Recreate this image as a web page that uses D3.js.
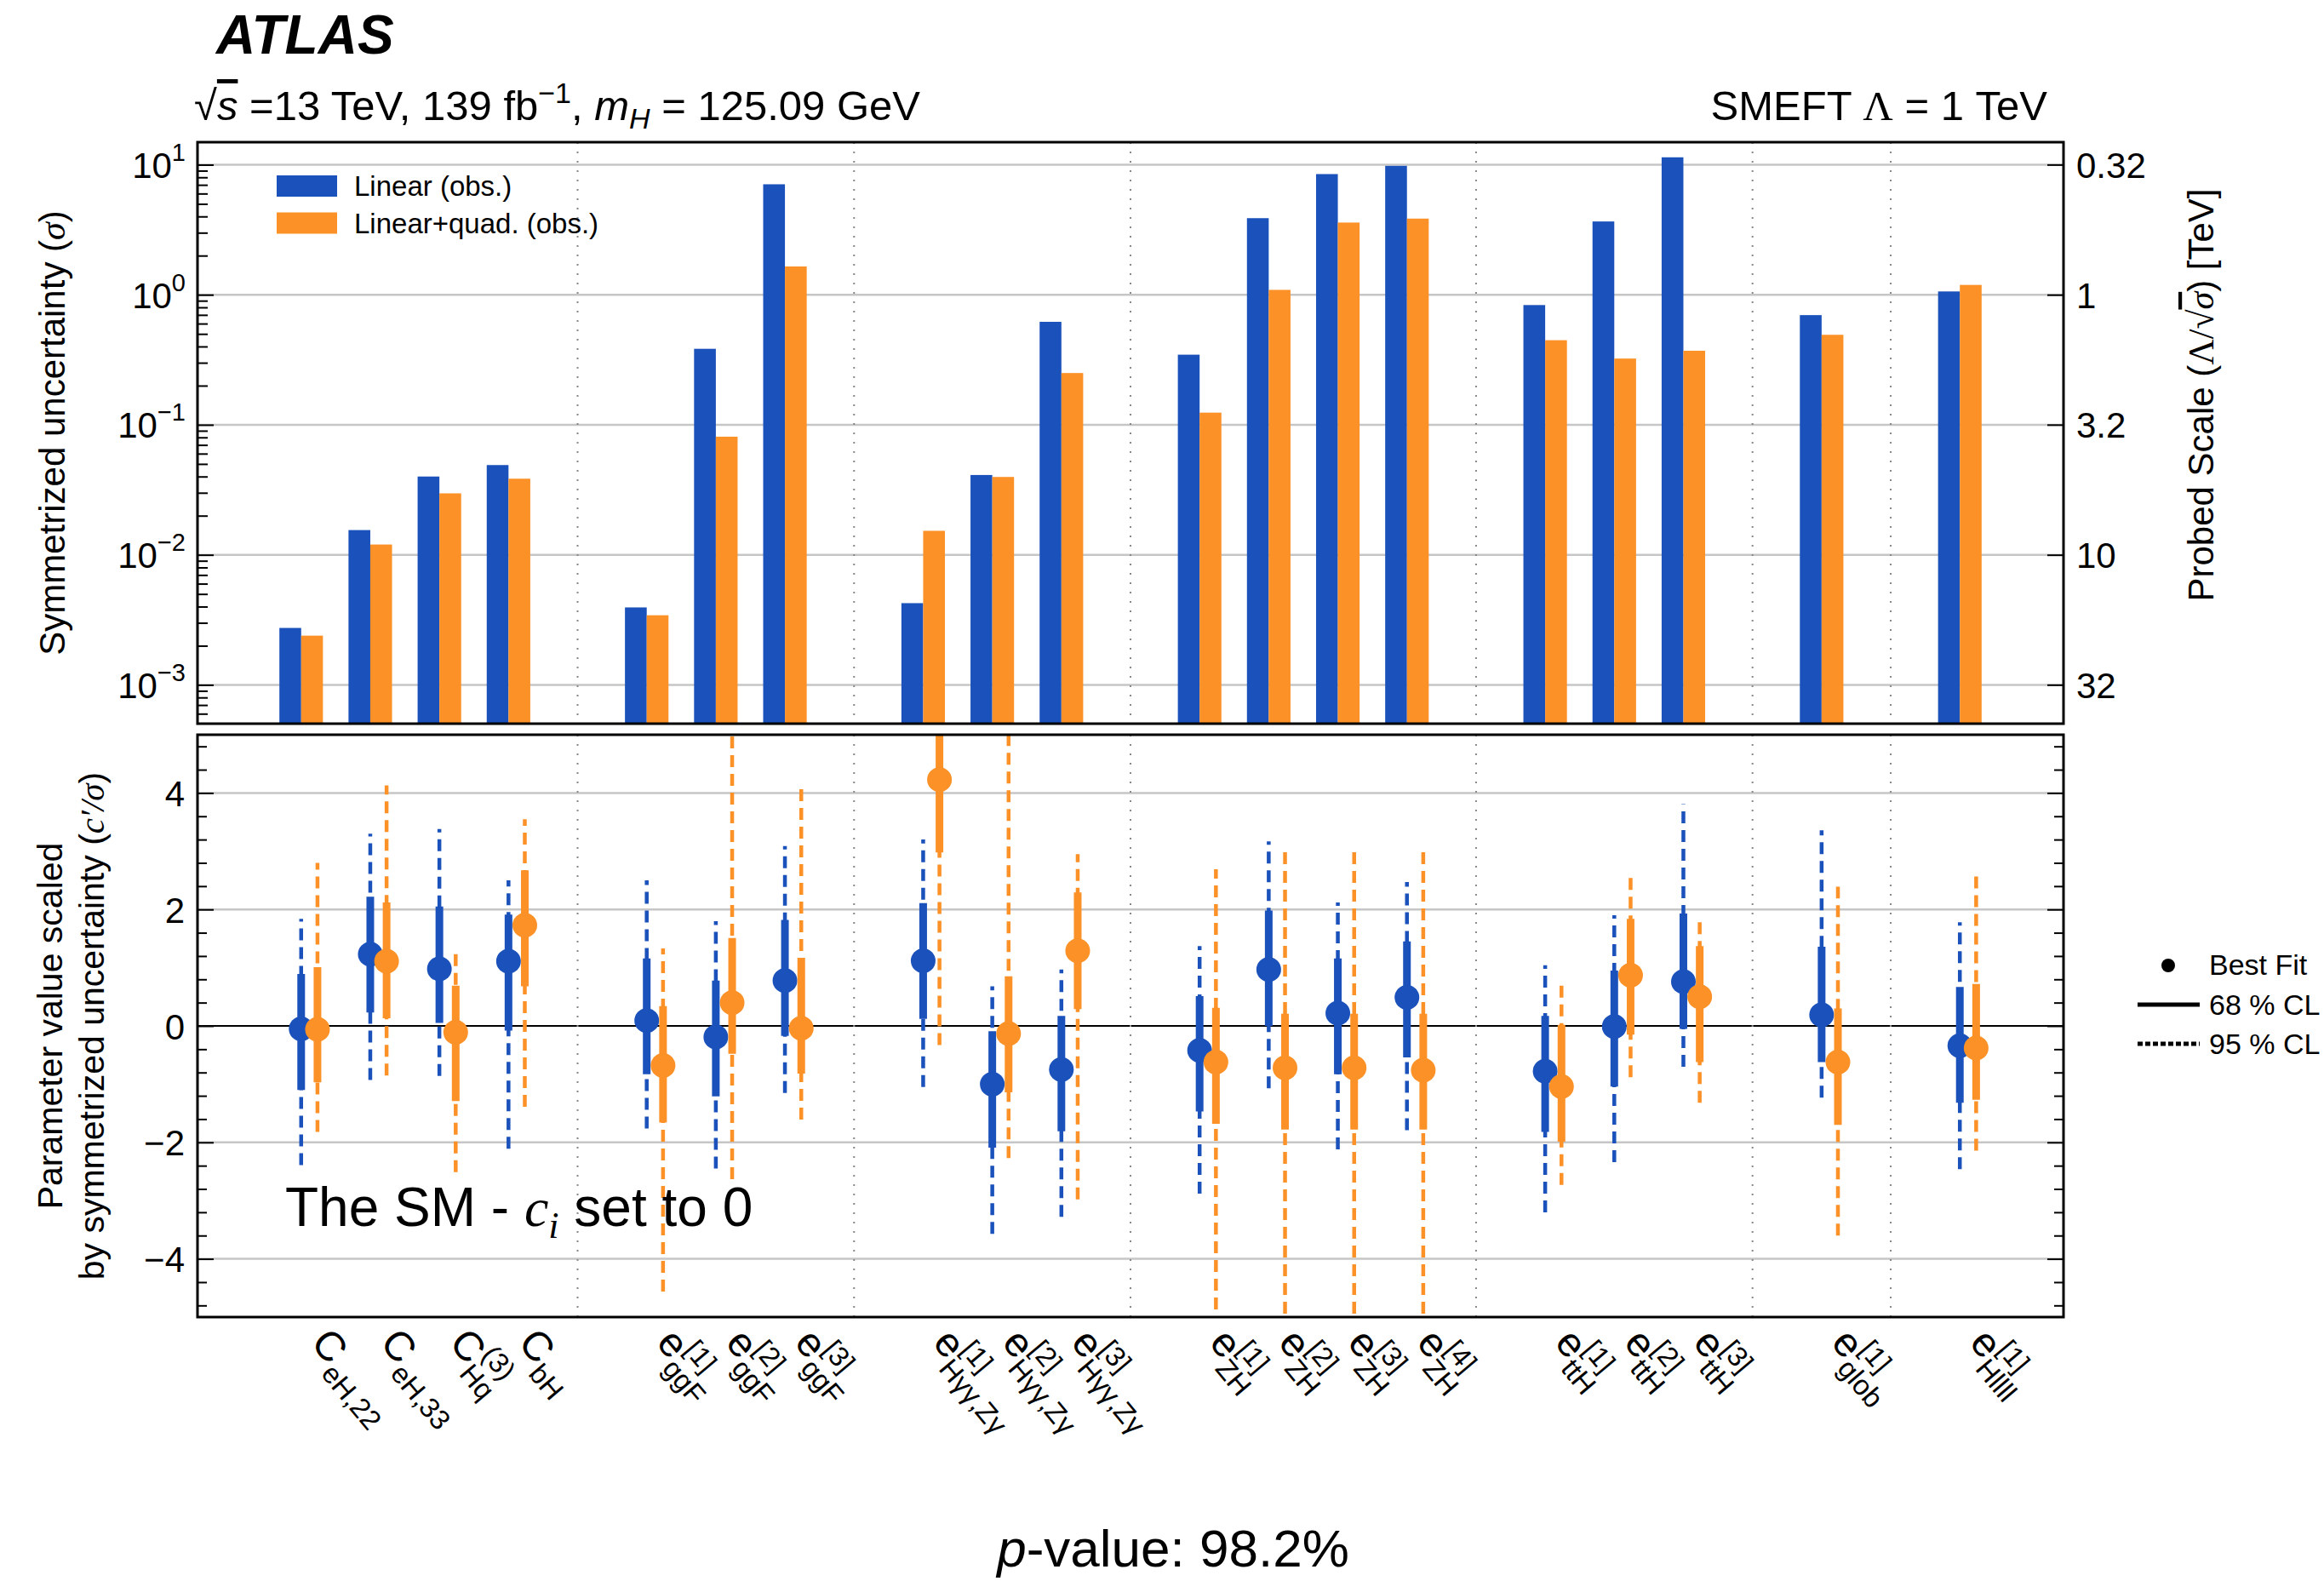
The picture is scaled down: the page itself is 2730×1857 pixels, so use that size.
<!DOCTYPE html>
<html>
<head>
<meta charset="utf-8">
<script src="https://cdn.jsdelivr.net/npm/d3@7"></script>
<style>
  body { margin: 0; background: #fff; }
  svg { display: block; font-family: "Liberation Sans", Arial, Helvetica, sans-serif; }
</style>
</head>
<body>
<svg id="chart" width="2730" height="1857"></svg>
<script>
// parameter groups, separated by dotted lines
const groups = [
  ["CeH22", "CeH33", "CHq3", "CbH"],
  ["ggF1", "ggF2", "ggF3"],
  ["Hgg1", "Hgg2", "Hgg3"],
  ["ZH1", "ZH2", "ZH3", "ZH4"],
  ["ttH1", "ttH2", "ttH3"],
  ["glob1"],
  ["Hllll1"]
];
const labelMain = ["C", "C", "C", "C", "e", "e", "e", "e", "e", "e", "e", "e", "e", "e", "e", "e", "e", "e", "e"];
const labelSup = ["", "", "(3)", "", "[1]", "[2]", "[3]", "[1]", "[2]", "[3]", "[1]", "[2]", "[3]", "[4]", "[1]", "[2]", "[3]", "[1]", "[1]"];
const labelSub = ["eH,22", "eH,33", "Hq", "bH", "ggF", "ggF", "ggF", "Hγγ,Zγ", "Hγγ,Zγ", "Hγγ,Zγ",
  "ZH", "ZH", "ZH", "ZH", "ttH", "ttH", "ttH", "glob", "Hllll"];

// top panel: symmetrized uncertainty
const sigmaLin = [2.74e-3, 0.0155, 0.040, 0.049, 3.94e-3, 0.384, 7.07, 4.25e-3, 0.0411, 0.619,
  0.346, 3.88, 8.47, 9.8, 0.833, 3.66, 11.4, 0.697, 1.06];
const sigmaQuad = [2.39e-3, 0.0120, 0.0297, 0.0385, 3.43e-3, 0.081, 1.65, 0.0153, 0.0397, 0.250,
  0.124, 1.09, 3.59, 3.85, 0.447, 0.323, 0.371, 0.492, 1.19];

// bottom panel: best fit and intervals (c'/sigma)
const bestLin = [-0.05, 1.23, 0.98, 1.11, 0.09, -0.19, 0.78, 1.12, -1.00, -0.75, -0.42, 0.97, 0.22, 0.49, -0.78, -0.01, 0.76, 0.19, -0.34];
const lo68Lin = [-1.10, 0.23, 0.05, -0.08, -0.83, -1.21, -0.17, 0.12, -2.09, -1.81, -1.47, 0.00, -0.83, -0.54, -1.82, -1.04, -0.05, -0.62, -1.32];
const hi68Lin = [0.89, 2.22, 2.05, 1.91, 1.16, 0.78, 1.82, 2.11, -0.09, 0.17, 0.51, 1.98, 1.16, 1.45, 0.17, 0.95, 1.93, 1.36, 0.67];
const lo95Lin = [-2.39, -0.93, -0.86, -2.11, -1.76, -2.45, -1.15, -1.05, -3.57, -3.28, -2.88, -1.07, -2.12, -1.79, -3.20, -2.34, -0.70, -1.23, -2.46];
const hi95Lin = [1.84, 3.30, 3.38, 2.50, 2.50, 1.80, 3.09, 3.20, 0.68, 0.97, 1.37, 3.17, 2.12, 2.47, 1.04, 1.90, 3.81, 3.36, 1.78];

const bestQuad = [-0.06, 1.11, -0.11, 1.73, -0.68, 0.40, -0.04, 4.23, -0.13, 1.29, -0.62, -0.72, -0.72, -0.76, -1.04, 0.87, 0.50, -0.62, -0.38];
const lo68Quad = [-0.97, 0.13, -1.29, 0.68, -1.66, -0.48, -0.82, 2.98, -1.14, 0.29, -1.68, -1.78, -1.78, -1.78, -1.99, -0.15, -0.62, -1.70, -1.27];
const hi68Quad = [1.01, 2.12, 0.69, 2.67, 0.34, 1.51, 1.17, 5.6, 0.85, 2.29, 0.31, 0.21, 0.21, 0.21, 0.02, 1.84, 1.37, 0.30, 0.72];
const lo95Quad = [-1.82, -0.85, -2.51, -1.39, -4.56, -2.63, -1.61, -0.33, -2.27, -2.98, -4.87, -4.94, -4.94, -4.94, -2.73, -0.88, -1.32, -3.60, -2.14];
const hi95Quad = [2.80, 4.13, 1.35, 3.55, 1.33, 5.5, 4.13, 6.5, 5.5, 2.95, 2.69, 3.02, 3.02, 3.02, 0.76, 2.58, 1.82, 2.39, 2.61];

// axis ticks
const decadeExp = [-3, -2, -1, 0, 1];
const probedValues = [0.316, 1, 3.16, 10, 31.6];
const probedLabels = ["0.32", "1", "3.2", "10", "32"];
const botTicks = [-4, -2, 0, 2, 4];

const blue = "#1b51bb";
const orange = "#fb9127";

const svg = d3.select("#chart");
const left = 232, right = 2424;
const topY0 = 167, topY1 = 850, botY0 = 863, botY1 = 1547;

const params = groups.flat();
const slots = ["start"];
groups.forEach((g, i) => {
  if (i > 0) slots.push("div" + i);
  slots.push(...g);
});
slots.push("end");
const dividers = slots.filter(s => s.startsWith("div"));

const x = d3.scaleBand().domain(slots).range([left, right]);
const bw = x.bandwidth();
const cx = k => x(k) + bw / 2;

const yTop = d3.scaleLog().domain([5.03e-4, 14.9]).range([topY1, topY0]);
const yProbed = d3.scaleLog().domain([1 / Math.sqrt(5.03e-4), 1 / Math.sqrt(14.9)]).range([topY1, topY0]);
const yBot = d3.scaleLinear().domain([-5, 5]).range([botY1, botY0]);

const decades = decadeExp.map(e => Math.pow(10, e));
const minorTop = [];
for (let e = -4; e <= 1; e++) {
  for (let m = 2; m <= 9; m++) {
    const v = m * Math.pow(10, e);
    if (v > yTop.domain()[0] && v < yTop.domain()[1]) minorTop.push(v);
  }
}
const minorBot = d3.range(-4.8, 4.81, 0.4).filter(v => Math.abs(v / 2 - Math.round(v / 2)) > 0.01);

// ---------- top panel ----------
svg.append("g").selectAll("line").data(decades).join("line")
  .attr("x1", left).attr("x2", right)
  .attr("y1", d => yTop(d)).attr("y2", d => yTop(d))
  .attr("stroke", "#c6c6c6").attr("stroke-width", 2.5);

svg.append("g").selectAll("line").data(dividers).join("line")
  .attr("x1", d => cx(d)).attr("x2", d => cx(d))
  .attr("y1", topY0).attr("y2", topY1)
  .attr("stroke", "#888").attr("stroke-width", 2).attr("stroke-dasharray", "2,9");

const barW = bw * 0.315;
svg.append("g").selectAll("rect").data(params).join("rect")
  .attr("x", d => cx(d) - barW).attr("width", barW)
  .attr("y", (d, i) => yTop(sigmaLin[i]))
  .attr("height", (d, i) => topY1 - yTop(sigmaLin[i]))
  .attr("fill", blue);
svg.append("g").selectAll("rect").data(params).join("rect")
  .attr("x", d => cx(d)).attr("width", barW)
  .attr("y", (d, i) => yTop(sigmaQuad[i]))
  .attr("height", (d, i) => topY1 - yTop(sigmaQuad[i]))
  .attr("fill", orange);

// left axis (log)
const axMinor = svg.append("g").attr("transform", `translate(${left},0)`)
  .call(d3.axisLeft(yTop).tickValues(minorTop).tickSize(-12).tickFormat(""));
const axMajor = svg.append("g").attr("transform", `translate(${left},0)`)
  .call(d3.axisLeft(yTop).tickValues(decades).tickSize(-19).tickPadding(14).tickFormat(""));
[axMinor, axMajor].forEach(a => {
  a.select(".domain").remove();
  a.selectAll("line").attr("stroke", "#000").attr("stroke-width", 2);
});
axMajor.selectAll(".tick text")
  .attr("font-size", 42).attr("dy", null).attr("y", 15)
  .each(function(d, i) {
    const t = d3.select(this);
    t.append("tspan").text("10");
    t.append("tspan").attr("font-size", 29).attr("dy", -20)
      .text(decadeExp[i] < 0 ? "−" + Math.abs(decadeExp[i]) : String(decadeExp[i]));
  });

// right axis (probed scale)
const axRight = svg.append("g").attr("transform", `translate(${right},0)`)
  .call(d3.axisRight(yProbed).tickValues(probedValues).tickSize(-19).tickPadding(15)
    .tickFormat((d, i) => probedLabels[i]));
axRight.select(".domain").remove();
axRight.selectAll("line").attr("stroke", "#000").attr("stroke-width", 2);
axRight.selectAll("text").attr("font-size", 42).attr("font-family", null).attr("dy", null).attr("y", 15);

svg.append("rect").attr("x", left).attr("y", topY0)
  .attr("width", right - left).attr("height", topY1 - topY0)
  .attr("fill", "none").attr("stroke", "#000").attr("stroke-width", 3);

// top legend
const legTop = svg.append("g");
[["Linear (obs.)", blue], ["Linear+quad. (obs.)", orange]].forEach(([t, c], i) => {
  legTop.append("rect").attr("x", 325).attr("y", 206 + i * 43.5)
    .attr("width", 71).attr("height", 25).attr("fill", c);
  legTop.append("text").attr("x", 416).attr("y", 230 + i * 43.5)
    .attr("font-size", 33).text(t);
});

// axis titles top
svg.append("text")
  .attr("transform", `translate(76,${(topY0 + topY1) / 2}) rotate(-90)`)
  .attr("text-anchor", "middle").attr("font-size", 42)
  .call(t => {
    t.append("tspan").text("Symmetrized uncertainty (");
    t.append("tspan").attr("font-family", "Liberation Serif, serif").attr("font-style", "italic").text("σ");
    t.append("tspan").text(")");
  });

svg.append("text")
  .attr("transform", `translate(2600,464) rotate(-90)`)
  .attr("text-anchor", "middle").attr("font-size", 42)
  .call(t => {
    t.append("tspan").text("Probed Scale (");
    t.append("tspan").attr("font-family", "Liberation Serif, serif").text("Λ/√");
    t.append("tspan").attr("font-family", "Liberation Serif, serif").attr("font-style", "italic")
      .style("text-decoration", "overline").text("σ");
    t.append("tspan").text(") [TeV]");
  });

// ---------- bottom panel ----------
svg.append("defs").append("clipPath").attr("id", "botclip")
  .append("rect").attr("x", left).attr("y", botY0)
  .attr("width", right - left).attr("height", botY1 - botY0);

svg.append("g").selectAll("line").data(botTicks.filter(d => d !== 0)).join("line")
  .attr("x1", left).attr("x2", right)
  .attr("y1", d => yBot(d)).attr("y2", d => yBot(d))
  .attr("stroke", "#c6c6c6").attr("stroke-width", 2.5);
svg.append("line")
  .attr("x1", left).attr("x2", right).attr("y1", yBot(0)).attr("y2", yBot(0))
  .attr("stroke", "#000").attr("stroke-width", 2);

svg.append("g").selectAll("line").data(dividers).join("line")
  .attr("x1", d => cx(d)).attr("x2", d => cx(d))
  .attr("y1", botY0).attr("y2", botY1)
  .attr("stroke", "#888").attr("stroke-width", 2).attr("stroke-dasharray", "2,9");

const series = [
  { color: blue, dx: 0, best: bestLin, lo68: lo68Lin, hi68: hi68Lin, lo95: lo95Lin, hi95: hi95Lin },
  { color: orange, dx: bw * 0.236, best: bestQuad, lo68: lo68Quad, hi68: hi68Quad, lo95: lo95Quad, hi95: hi95Quad }
];
const marks = svg.append("g").attr("clip-path", "url(#botclip)");
series.forEach(s => {
  const g = marks.append("g");
  g.selectAll("line.cl95").data(params).join("line").attr("class", "cl95")
    .attr("x1", d => cx(d) + s.dx).attr("x2", d => cx(d) + s.dx)
    .attr("y1", (d, i) => yBot(s.lo95[i])).attr("y2", (d, i) => yBot(s.hi95[i]))
    .attr("stroke", s.color).attr("stroke-width", 4.5).attr("stroke-dasharray", "14,8");
  g.selectAll("line.cl68").data(params).join("line").attr("class", "cl68")
    .attr("x1", d => cx(d) + s.dx).attr("x2", d => cx(d) + s.dx)
    .attr("y1", (d, i) => yBot(s.lo68[i])).attr("y2", (d, i) => yBot(s.hi68[i]))
    .attr("stroke", s.color).attr("stroke-width", 9);
  g.selectAll("circle").data(params).join("circle")
    .attr("cx", d => cx(d) + s.dx).attr("cy", (d, i) => yBot(s.best[i]))
    .attr("r", 14.5).attr("fill", s.color);
});

const bMinorL = svg.append("g").attr("transform", `translate(${left},0)`)
  .call(d3.axisLeft(yBot).tickValues(minorBot).tickSize(-11).tickFormat(""));
const bMajorL = svg.append("g").attr("transform", `translate(${left},0)`)
  .call(d3.axisLeft(yBot).tickValues(botTicks).tickSize(-19).tickPadding(15)
    .tickFormat(d => d < 0 ? "−" + Math.abs(d) : String(d)));
const bMinorR = svg.append("g").attr("transform", `translate(${right},0)`)
  .call(d3.axisRight(yBot).tickValues(minorBot).tickSize(-11).tickFormat(""));
const bMajorR = svg.append("g").attr("transform", `translate(${right},0)`)
  .call(d3.axisRight(yBot).tickValues(botTicks).tickSize(-19).tickFormat(""));
[bMinorL, bMajorL, bMinorR, bMajorR].forEach(a => {
  a.select(".domain").remove();
  a.selectAll("line").attr("stroke", "#000").attr("stroke-width", 2);
});
bMajorL.selectAll("text").attr("font-size", 42).attr("font-family", null).attr("dy", null).attr("y", 15);

svg.append("rect").attr("x", left).attr("y", botY0)
  .attr("width", right - left).attr("height", botY1 - botY0)
  .attr("fill", "none").attr("stroke", "#000").attr("stroke-width", 3);

// bottom y title (two lines)
const botMid = (botY0 + botY1) / 2;
svg.append("text")
  .attr("transform", `translate(73,${botMid}) rotate(-90)`)
  .attr("text-anchor", "middle").attr("font-size", 41)
  .text("Parameter value scaled");
svg.append("text")
  .attr("transform", `translate(122,${botMid}) rotate(-90)`)
  .attr("text-anchor", "middle").attr("font-size", 41)
  .call(t => {
    t.append("tspan").text("by symmetrized uncertainty (");
    t.append("tspan").attr("font-family", "Liberation Serif, serif").attr("font-style", "italic").text("c′/σ");
    t.append("tspan").text(")");
  });

// x labels (rotated)
svg.append("g").selectAll("g").data(params).join("g")
  .attr("transform", d => `translate(${cx(d) + 10},1578) rotate(50)`)
  .each(function(d, i) {
    const g = d3.select(this);
    const m = g.append("text").attr("font-size", 48).text(labelMain[i]);
    const w = m.node().getComputedTextLength();
    if (labelSup[i]) {
      g.append("text").attr("x", w + 1).attr("y", -20).attr("font-size", 33).text(labelSup[i]);
    }
    g.append("text").attr("x", w + 1).attr("y", 14).attr("font-size", 33).text(labelSub[i]);
  });

// bottom legend
const legBot = svg.append("g");
legBot.append("circle").attr("cx", 2547).attr("cy", 1134).attr("r", 8).attr("fill", "#000");
legBot.append("line").attr("x1", 2511).attr("x2", 2584).attr("y1", 1180).attr("y2", 1180)
  .attr("stroke", "#000").attr("stroke-width", 5);
legBot.append("line").attr("x1", 2511).attr("x2", 2584).attr("y1", 1226).attr("y2", 1226)
  .attr("stroke", "#000").attr("stroke-width", 5).attr("stroke-dasharray", "6,3");
["Best Fit", "68 % CL", "95 % CL"].forEach((t, i) => {
  legBot.append("text").attr("x", 2595).attr("y", 1145 + i * 46.5)
    .attr("font-size", 34).text(t);
});

// ---------- annotations ----------
svg.append("text").attr("x", 254).attr("y", 63)
  .attr("font-size", 64).attr("font-weight", "bold").attr("font-style", "italic")
  .text("ATLAS");

svg.append("text").attr("x", 228).attr("y", 141).attr("font-size", 49)
  .call(t => {
    t.append("tspan").text("√");
    t.append("tspan").attr("font-style", "italic").style("text-decoration", "overline").text("s");
    t.append("tspan").text(" =13 TeV, 139 fb");
    t.append("tspan").attr("font-size", 34).attr("dy", -20).text("−1");
    t.append("tspan").attr("dy", 20).text(", ");
    t.append("tspan").attr("font-style", "italic").text("m");
    t.append("tspan").attr("font-style", "italic").attr("font-size", 34).attr("dy", 10).text("H");
    t.append("tspan").attr("dy", -10).text(" = 125.09 GeV");
  });

svg.append("text").attr("x", 2405).attr("y", 141).attr("font-size", 49)
  .attr("text-anchor", "end")
  .call(t => {
    t.append("tspan").text("SMEFT ");
    t.append("tspan").attr("font-family", "Liberation Serif, serif").text("Λ");
    t.append("tspan").text(" = 1 TeV");
  });

svg.append("text").attr("x", 335).attr("y", 1440).attr("font-size", 64)
  .call(t => {
    t.append("tspan").text("The SM - ");
    t.append("tspan").attr("font-family", "Liberation Serif, serif").attr("font-style", "italic").text("c");
    t.append("tspan").attr("font-family", "Liberation Serif, serif").attr("font-style", "italic")
      .attr("font-size", 44).attr("dy", 14).text("i");
    t.append("tspan").attr("dy", -14).text(" set to 0");
  });

svg.append("text").attr("x", 1378).attr("y", 1840).attr("font-size", 62)
  .attr("text-anchor", "middle")
  .call(t => {
    t.append("tspan").attr("font-style", "italic").text("p");
    t.append("tspan").text("-value: 98.2%");
  });
</script>
</body>
</html>
